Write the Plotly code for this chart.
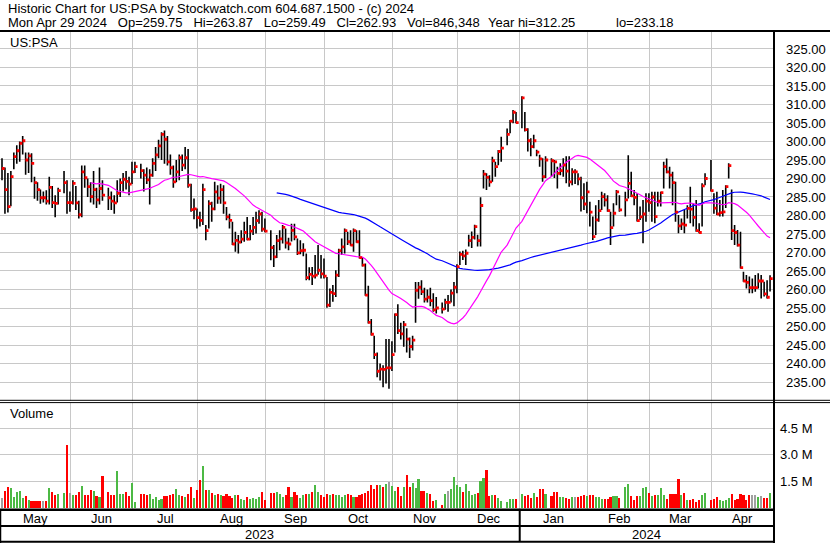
import numpy as np
import pandas as pd
import plotly.graph_objects as go

START = "2023-05-01"
END = "2024-04-29"
holidays = ["2023-05-29", "2023-06-19", "2023-07-04", "2023-09-04", "2023-11-23",
            "2023-12-25", "2024-01-01", "2024-01-15", "2024-02-19", "2024-03-29"]

high = [
    # May
    295.5, 293.0, 291.5, 292.0, 297.0, 299.0, 300.0, 301.5, 297.0, 297.0, 296.8, 290.5, 289.0, 287.0, 286.5, 286.8, 290.5, 288.0, 285.5, 287.5, 292.0, 289.5,
    # Jun
    286.5, 289.5, 288.0, 284.0, 293.5, 293.5, 290.0, 289.0, 292.0, 287.5, 293.0, 289.5, 287.5, 286.5, 285.5, 289.5, 290.0, 291.5, 292.0, 290.5, 294.5,
    # Jul
    294.5, 294.0, 292.5, 293.0, 292.5, 295.5, 298.5, 300.5, 302.5, 303.0, 301.5, 296.5, 293.5, 295.0, 296.5, 296.5, 298.5, 298.0, 288.6, 284.6,
    # Aug
    281.9, 281.0, 288.6, 277.4, 284.1, 283.7, 289.1, 288.2, 288.6, 288.2, 282.3, 280.5, 278.3, 275.6, 274.7, 276.0, 278.3, 279.6, 277.4, 279.6, 281.0, 281.4, 281.0,
    # Sep
    279.2, 276.0, 272.0, 274.7, 276.0, 277.4, 276.5, 274.0, 277.8, 277.8, 273.8, 273.3, 272.5, 269.7, 266.0, 266.1, 269.3, 272.0, 269.3, 268.4,
    # Oct
    263.4, 260.3, 261.2, 265.2, 271.0, 273.8, 276.5, 275.6, 276.0, 276.5, 276.0, 276.0, 268.8, 267.0, 261.0, 252.0, 247.5, 243.0, 240.0, 239.5, 246.6, 246.6,
    # Nov
    246.0, 253.5, 256.0, 251.0, 251.5, 249.5, 247.0, 247.5, 262.0, 262.0, 262.5, 260.5, 260.0, 260.5, 259.0, 258.0, 256.5, 257.5, 258.5, 260.0, 262.0,
    # Dec
    266.8, 270.3, 270.5, 270.8, 274.8, 275.7, 277.5, 274.8, 284.9, 292.3, 291.4, 290.9, 295.9, 294.5, 297.7, 301.3, 303.5, 305.8, 308.5, 308.0,
    # Jan
    312.25, 308.0, 303.6, 300.9, 301.8, 297.8, 296.4, 295.5, 296.0, 295.5, 295.0, 293.2, 294.1, 295.5, 296.0, 296.0, 292.8, 292.5, 291.4, 290.5, 288.7,
    # Feb
    289.1, 283.7, 279.7, 282.8, 284.2, 286.4, 286.0, 285.5, 281.0, 283.3, 286.9, 285.5, 286.4, 296.3, 291.8, 286.9, 286.0, 282.4, 284.2, 286.0,
    # Mar
    286.0, 286.4, 286.4, 286.4, 286.4, 294.5, 295.4, 293.2, 291.8, 289.1, 280.1, 279.2, 281.5, 282.8, 287.8, 283.3, 284.2, 277.9, 288.7, 291.4,
    # Apr
    295.0, 286.0, 286.4, 284.2, 286.9, 288.2, 294.1, 287.0, 277.4, 276.1, 275.6, 264.8, 263.9, 263.5, 263.0, 263.9, 264.4, 263.9, 262.1, 262.5, 263.87,
]

low = [
    289.5, 280.5, 280.8, 282.5, 292.5, 294.0, 294.5, 296.5, 291.0, 291.5, 289.0, 284.5, 284.0, 283.2, 283.5, 283.0, 283.0, 282.0, 279.5, 283.0, 286.0, 280.5,
    281.0, 283.0, 281.5, 279.2, 279.5, 287.5, 285.0, 283.5, 283.0, 282.0, 283.0, 284.0, 281.5, 281.5, 280.5, 283.5, 285.0, 286.5, 287.0, 285.5, 288.5,
    291.5, 290.0, 286.5, 288.5, 283.0, 290.5, 292.0, 295.5, 295.0, 294.0, 293.5, 291.0, 287.5, 289.0, 289.5, 292.0, 292.5, 287.5, 281.0, 279.0,
    276.5, 277.0, 277.4, 273.3, 276.5, 278.3, 281.4, 283.2, 283.2, 280.5, 278.7, 276.5, 272.0, 270.2, 269.7, 272.5, 272.9, 273.3, 273.3, 274.7, 275.1, 277.8, 275.6,
    275.5, 267.9, 266.1, 268.5, 270.6, 272.4, 271.1, 270.6, 273.0, 273.3, 269.3, 269.5, 269.0, 262.5, 262.5, 261.2, 263.0, 264.0, 263.0, 263.0,
    255.1, 255.3, 256.7, 258.0, 263.4, 269.3, 269.7, 272.0, 271.8, 270.2, 272.6, 268.4, 266.2, 258.3, 250.8, 247.6, 241.2, 236.3, 235.4, 233.6, 234.6, 233.18,
    238.0, 243.0, 248.0, 246.5, 244.5, 243.0, 241.5, 243.5, 251.0, 257.5, 258.5, 256.5, 256.5, 255.5, 254.0, 253.5, 253.5, 254.5, 254.0, 256.5, 255.5,
    259.0, 266.6, 268.0, 266.6, 271.6, 271.2, 273.5, 271.6, 271.6, 287.3, 286.9, 287.8, 289.1, 290.5, 293.6, 294.5, 299.0, 302.2, 304.9, 304.9,
    303.6, 302.7, 297.3, 296.0, 298.2, 296.0, 293.2, 289.1, 290.1, 290.5, 290.1, 287.3, 290.9, 290.5, 288.7, 287.8, 288.2, 288.5, 288.2, 281.1, 281.5,
    280.6, 277.0, 273.4, 274.7, 278.3, 281.5, 282.4, 281.0, 272.0, 277.0, 282.8, 281.0, 279.7, 284.6, 285.0, 282.8, 278.4, 278.8, 272.5, 278.3,
    281.0, 278.3, 277.9, 282.4, 282.4, 287.3, 291.4, 287.3, 282.8, 278.3, 275.2, 276.1, 275.2, 279.2, 277.9, 277.0, 275.6, 275.2, 277.0, 288.2,
    286.5, 280.5, 280.1, 279.7, 279.7, 282.0, 290.0, 273.4, 272.0, 271.6, 265.7, 262.1, 260.3, 259.0, 259.0, 259.4, 260.3, 257.6, 258.1, 257.6, 259.49,
]

close = [
    292.7, 287.0, 282.4, 290.5, 295.9, 297.5, 299.5, 300.2, 295.0, 296.1, 294.1, 288.9, 287.0, 284.8, 284.8, 283.9, 287.6, 283.5, 283.3, 286.7, 288.9, 283.5,
    283.5, 288.7, 283.4, 280.2, 291.8, 290.2, 287.8, 285.1, 287.0, 284.2, 287.3, 285.5, 284.8, 283.9, 283.4, 286.0, 288.9, 289.8, 289.2, 288.5, 291.8,
    293.2, 292.1, 290.9, 289.6, 290.9, 294.1, 296.4, 298.8, 301.9, 300.6, 294.5, 292.9, 289.1, 291.8, 295.6, 293.6, 295.6, 288.2, 281.6, 281.8,
    279.4, 278.7, 287.0, 275.9, 283.2, 281.8, 286.4, 284.7, 287.0, 283.4, 279.6, 278.7, 272.3, 273.3, 272.8, 273.6, 275.4, 273.6, 275.8, 276.8, 278.6, 280.4, 276.3,
    275.8, 271.3, 268.8, 273.2, 273.7, 276.8, 272.6, 272.3, 276.0, 274.2, 269.9, 270.5, 270.6, 263.2, 264.1, 263.6, 263.9, 265.2, 264.2, 263.6,
    255.8, 259.2, 258.9, 263.9, 270.5, 271.5, 275.9, 272.9, 272.0, 275.9, 272.9, 268.6, 266.6, 258.5, 251.1, 247.9, 242.4, 237.9, 238.5, 238.4, 238.8, 238.8,
    242.4, 253.2, 248.9, 248.0, 250.5, 246.6, 244.6, 246.3, 259.8, 260.6, 259.4, 257.4, 257.9, 257.0, 254.5, 255.0, 254.7, 256.5, 256.5, 259.0, 260.6,
    266.2, 269.5, 269.1, 269.8, 273.2, 274.1, 277.0, 273.2, 282.7, 291.2, 290.3, 289.1, 294.8, 293.2, 297.3, 298.2, 301.9, 305.5, 307.9, 305.1,
    311.8, 303.2, 300.2, 298.6, 300.2, 297.1, 295.3, 290.5, 295.0, 294.8, 294.5, 291.4, 292.1, 293.6, 292.0, 289.1, 291.8, 291.8, 289.9, 284.8, 283.1,
    286.4, 280.9, 274.3, 278.8, 281.3, 285.1, 284.2, 281.3, 276.7, 280.6, 286.4, 281.5, 284.2, 288.7, 285.3, 284.9, 278.6, 279.6, 280.4, 283.9,
    283.5, 285.0, 279.7, 283.9, 286.2, 293.2, 291.8, 290.9, 288.9, 280.9, 277.2, 277.7, 277.4, 281.9, 281.7, 279.5, 275.9, 275.4, 288.0, 290.0,
    286.7, 282.0, 280.4, 280.8, 281.0, 287.8, 293.5, 275.9, 275.4, 272.0, 265.9, 262.3, 261.9, 260.5, 260.5, 260.5, 262.3, 262.3, 258.8, 257.9, 262.93,
]

volume_m = [
    0.57, 0.94, 1.16, 1.10, 0.60, 0.88, 0.94, 0.57, 0.65, 0.42, 0.37, 0.40, 0.40, 0.40, 0.40, 0.40, 1.10, 0.88, 0.73, 0.79, 0.84, 3.55,
    0.82, 0.71, 0.71, 0.88, 1.22, 0.71, 0.71, 0.97, 0.94, 0.65, 0.60, 1.79, 0.88, 0.71, 0.71, 2.07, 0.77, 0.77, 0.88, 0.65, 1.39,
    0.31, 0.77, 0.77, 0.71, 0.77, 0.50, 0.60, 0.45, 0.50, 0.65, 0.65, 0.71, 0.77, 1.05, 0.71, 0.65, 0.60, 0.77, 1.16, 0.55,
    1.00, 1.55, 2.36, 0.97, 0.97, 0.85, 0.70, 0.75, 0.70, 0.65, 0.75, 0.65, 0.55, 0.70, 0.70, 0.50, 0.45, 0.60, 0.50, 0.55, 0.50, 0.60, 0.90,
    0.45, 0.80, 0.85, 0.90, 0.75, 0.60, 0.70, 1.16, 0.60, 0.90, 0.70, 0.55, 0.70, 0.75, 0.75, 0.90, 1.28, 0.90, 0.70, 0.60,
    0.75, 0.70, 0.75, 0.70, 0.70, 0.60, 0.70, 0.75, 0.70, 0.60, 0.60, 0.70, 0.75, 0.80, 0.94, 1.28, 1.05, 1.30, 1.30, 1.15, 1.33, 1.45,
    1.22, 0.94, 1.15, 0.65, 1.15, 1.85, 1.15, 1.40, 1.10, 1.60, 0.94, 0.95, 0.85, 0.75, 0.40, 0.45, 0.14, 0.77, 0.94, 1.05, 1.73,
    1.28, 1.16, 0.88, 1.33, 0.94, 0.73, 0.77, 0.82, 1.50, 1.67, 2.13, 0.65, 0.71, 0.71, 0.54, 0.37, 0.31, 0.48, 0.48, 0.48,
    0.77, 0.65, 0.71, 0.54, 0.82, 0.60, 1.05, 1.05, 0.77, 0.65, 0.88, 0.88, 0.60, 0.60, 0.54, 0.48, 0.60, 0.60, 0.60, 0.65, 0.71,
    0.65, 0.71, 0.71, 0.60, 0.60, 0.48, 0.48, 0.48, 0.60, 0.65, 0.65, 0.55, 1.16, 1.33, 0.65, 0.42, 0.65, 0.65, 1.10, 1.16,
    0.82, 0.65, 0.71, 0.71, 1.10, 0.71, 0.48, 0.77, 0.77, 0.77, 1.62, 0.71, 0.82, 0.42, 0.42, 0.48, 0.31, 0.42, 0.71, 0.82,
    0.42, 0.48, 0.60, 0.42, 0.37, 0.42, 0.54, 0.77, 0.42, 0.48, 0.77, 0.71, 0.42, 0.71, 0.71, 0.71, 0.60, 0.65, 0.54, 0.54, 0.846348,
]

month_names = ["May", "Jun", "Jul", "Aug", "Sep", "Oct", "Nov", "Dec", "Jan", "Feb", "Mar", "Apr"]
year_names = ["2023", "2024"]
price_ticks = list(range(235, 330, 5))
volume_ticks = [1.5, 3.0, 4.5]
ma_fast, ma_slow = 30, 90

SP3 = "\u00a0\u00a0\u00a0"
header1 = "Historic Chart for US:PSA by Stockwatch.com 604.687.1500 - (c) 2024"
header2a = SP3.join(["Mon Apr 29 2024", "Op=259.75", "Hi=263.87", "Lo=259.49", "Cl=262.93", "Vol=846,348"])
header2b = "Year hi=312.25"
header2c = "lo=233.18"

# ---------------------------------------------------------------- geometry
W, H = 830, 543
ML, MR, MT, MB = 0, 56, 31, 33
PW, PH = W - ML - MR, H - MT - MB
X0_PX, STEP = 2.0, 2.954          # pixel of first weekday, pixels per weekday
GRID_SHIFT = 0.257


def px(x):
    return (x - ML) / PW


def py(y):
    return (H - MB - y) / PH


days = [d for d in pd.bdate_range(START, END) if d.strftime("%Y-%m-%d") not in holidays]
assert len(days) == len(close) == len(high) == len(low) == len(volume_m)
start64 = np.datetime64(START)
xi = np.busday_count(start64, np.array([d.date() for d in days], dtype="datetime64[D]")).astype(float)

xr = [(0 - X0_PX) / STEP, (PW - X0_PX) / STEP]

bounds = []
for k in range(12):
    yy, mm = (2023, 5 + k) if 5 + k <= 12 else (2024, 5 + k - 12)
    first = pd.Timestamp(yy, mm, 1)
    g = int(np.busday_count(start64, np.datetime64(first.date())))
    if first.weekday() >= 5:
        g -= 1
    bounds.append(g + GRID_SHIFT)
grid_x = bounds[1:]
edges = [xr[0]] + bounds[1:] + [xr[1]]
month_centers = [(edges[k] + edges[k + 1]) / 2 for k in range(12)]
jan_x = bounds[8]
year_centers = [(xr[0] + jan_x) / 2, (jan_x + xr[1]) / 2]

# ---------------------------------------------------------------- traces
seg_x, seg_y = [], []
for x, h, l in zip(xi, high, low):
    seg_x += [x, x, None]
    seg_y += [l, h, None]

cs = pd.Series(close)
ma1 = cs.rolling(ma_fast).mean()
ma2 = cs.rolling(ma_slow).mean()

vcolors = []
for i, c in enumerate(close):
    if i == 0 or c == close[i - 1]:
        vcolors.append("#a0a0a0")
    elif c > close[i - 1]:
        vcolors.append("#4cb944")
    else:
        vcolors.append("#ff0000")

fig = go.Figure()
fig.add_trace(go.Bar(x=xi, y=volume_m, width=0.72, marker=dict(color=vcolors, line=dict(width=0)),
                     xaxis="x2", yaxis="y2", hoverinfo="skip"))
fig.add_trace(go.Scatter(x=seg_x, y=seg_y, mode="lines", line=dict(color="black", width=1.6),
                         xaxis="x", yaxis="y", hoverinfo="skip"))
fig.add_trace(go.Scatter(x=xi, y=ma2, mode="lines", line=dict(color="#0000ff", width=1.2),
                         xaxis="x", yaxis="y", hoverinfo="skip"))
fig.add_trace(go.Scatter(x=xi, y=ma1, mode="lines", line=dict(color="#ff00ff", width=1.2),
                         xaxis="x", yaxis="y", hoverinfo="skip"))
fig.add_trace(go.Scatter(x=xi + 0.42, y=close, mode="markers",
                         marker=dict(symbol="square", size=2.8, color="#ff0000", line=dict(width=0)),
                         xaxis="x", yaxis="y", hoverinfo="skip"))

GRID = "#c8c8c8"
FONT = "Liberation Sans, Arial, sans-serif"
xcommon = dict(range=xr, tickmode="array", tickvals=grid_x, showticklabels=False, ticks="",
               showgrid=True, gridcolor=GRID, gridwidth=1, zeroline=False, showline=False, fixedrange=True)

fig.update_layout(
    width=W, height=H,
    margin=dict(l=ML, r=MR, t=MT, b=MB, pad=0),
    paper_bgcolor="white", plot_bgcolor="white",
    showlegend=False, bargap=0, hovermode=False,
    font=dict(family=FONT, size=13, color="black"),
    xaxis=dict(domain=[0, 1], anchor="y", **xcommon),
    xaxis2=dict(domain=[0, 1], anchor="y2", matches="x", **xcommon),
    yaxis=dict(domain=[py(400.5), 1], range=[230.0, 329.86], side="right", anchor="x",
               tickmode="array", tickvals=price_ticks, ticktext=[f"{v:.2f}" for v in price_ticks],
               ticks="", ticklabelstandoff=11, tickfont=dict(size=13, family=FONT, color="#000000"),
               showgrid=True, gridcolor=GRID, gridwidth=1, zeroline=False, showline=False, fixedrange=True),
    yaxis2=dict(domain=[py(509.3), py(402.5)], range=[-0.1, 5.97], side="right", anchor="x2",
                tickmode="array", tickvals=volume_ticks, ticktext=[f"{v:.1f} M" for v in volume_ticks],
                ticks="", ticklabelstandoff=5, tickfont=dict(size=13, family=FONT, color="#000000"),
                showgrid=True, gridcolor=GRID, gridwidth=1, zeroline=False, showline=False, fixedrange=True),
)

shapes = []


def hline(y, x0, x1, w=2):
    shapes.append(dict(type="line", xref="paper", yref="paper", x0=px(x0), x1=px(x1), y0=py(y), y1=py(y),
                       line=dict(color="black", width=w), layer="above"))


def vline(x, y0, y1, w=2):
    shapes.append(dict(type="line", xref="paper", yref="paper", x0=px(x), x1=px(x), y0=py(y0), y1=py(y1),
                       line=dict(color="black", width=w), layer="above"))


hline(31, 0, 830)
hline(400.3, 0, 830, 1)
hline(402.6, 0, 830, 1)
hline(509.8, 0, 775, 2.5)
hline(526, 0, 775)
hline(541.8, 0, 775)
vline(774, 31, 543)
vline(0.5, 509, 543, 1.5)
shapes.append(dict(type="line", xref="x", yref="paper", x0=jan_x, x1=jan_x, y0=py(510), y1=py(542),
                   line=dict(color="black", width=2), layer="above"))
fig.update_layout(shapes=shapes)

ann = []


def text(t, x, y, anchor="left", xref="paper"):
    ann.append(dict(text=t, xref=xref, yref="paper", x=x, y=y, xanchor=anchor, yanchor="middle",
                    showarrow=False, font=dict(size=13, family=FONT, color="black")))


text(header1, px(6), py(8.5))
text(header2a, px(6), py(22.5))
text(header2b, px(486), py(22.5))
text(header2c, px(614), py(22.5))
text("US:PSA", px(8), py(42))
text("Volume", px(8), py(413))
for name, cx in zip(month_names, month_centers):
    text(name, cx, py(518.5), "center", "x")
for name, cx in zip(year_names, year_centers):
    text(name, cx, py(534.5), "center", "x")
fig.update_layout(annotations=ann)

fig.write_html("out.html", config={"displayModeBar": False, "staticPlot": True},
               post_script="document.body.style.margin='0px';document.body.style.overflow='hidden';")
